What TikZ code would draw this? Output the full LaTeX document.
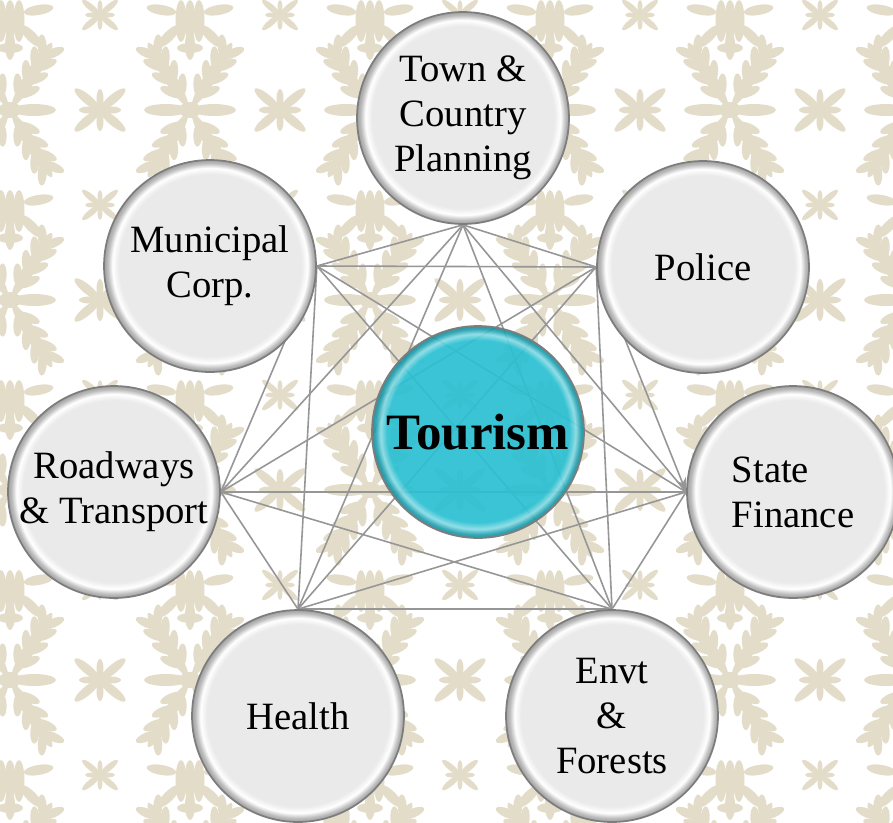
\documentclass[tikz,border=0pt]{standalone}
\usepackage{fontspec}
\setmainfont{Liberation Serif}
\usepackage{tikz}
\usetikzlibrary{arrows.meta}
\usepackage{xcolor}

\definecolor{damask}{RGB}{226,220,201}
\definecolor{discgray}{RGB}{234,234,234}
\definecolor{rimgray}{RGB}{125,125,125}
\definecolor{linkgray}{RGB}{150,150,150}
\definecolor{tealhub}{RGB}{42,192,210}

\pgfdeclareradialshading{bevel}{\pgfpoint{0bp}{1bp}}{color(0bp)=(discgray); color(21.5bp)=(discgray); color(23bp)=(white); color(24.2bp)=(discgray!80!black); color(26bp)=(discgray!55!black)}
\pgfdeclareradialshading{tealbevel}{\pgfpoint{0bp}{1bp}}{color(0bp)=(tealhub); color(21.5bp)=(tealhub); color(23bp)=(tealhub!55!white); color(24.2bp)=(tealhub!85!black); color(26bp)=(tealhub!55!black)}

\pgfdeclarelayer{pattern}
\pgfdeclarelayer{links}
\pgfsetlayers{pattern,links,main}

% wallpaper motifs
\newcommand{\feather}{%
  \fill (42,0) ellipse (37 and 6);
  \foreach \t in {16,32,48,62}{%
    \fill[rotate around={35:(\t,0)}] (\t+11,0) ellipse (12 and 4.5);
    \fill[rotate around={-35:(\t,0)}] (\t+11,0) ellipse (12 and 4.5);
  }%
}
\newcommand{\leafmotif}{%
  \foreach \a in {58,122,238,302}{%
    \begin{scope}[rotate=\a] \feather \end{scope}
  }%
  \foreach \a in {0,180} \fill[rotate=\a] (24,0) ellipse (22 and 6);
  \fill (0,0) ellipse (11 and 8);
}
\newcommand{\crossmotif}{%
  \foreach \a in {40,140,220,320} \fill[rotate=\a] (17,0) ellipse (16 and 4.5);
  \foreach \a in {0,90,180,270} \fill[rotate=\a] (11,0) ellipse (10 and 3.5);
  \fill (0,0) circle (4);
}
\newcommand{\urnmotif}{%
  \foreach \s in {-9,0,9} \fill (\s,6) ellipse (5.5 and 21);
  \foreach \a in {-135,-90,-45} \fill[rotate=\a] (30,0) ellipse (15 and 5);
  \foreach \a in {10,170} \fill[rotate=\a] (29,0) ellipse (15 and 5);
  \fill (0,33) ellipse (13 and 5);
}

\begin{document}
\begin{tikzpicture}[
    x=0.02cm, y=-0.02cm,
    dept/.style={circle, minimum size=4.24cm, inner sep=0pt, shading=bevel, draw=rimgray, line width=1pt, align=center, font=\fontsize{22}{25.6}\selectfont},
    hub/.style={circle, minimum size=4.24cm, inner sep=0pt, shading=tealbevel, fill opacity=0.92, text opacity=1, draw=rimgray, line width=1pt, font=\fontsize{29}{32}\selectfont\bfseries},
    link/.style={draw=linkgray, line width=0.9pt},
    arrow/.style={link, -{Stealth[length=8pt, width=6pt]}}
]
\useasboundingbox (0,0) rectangle (893,822);

\begin{pgfonlayer}{pattern}
  \fill[white] (0,0) rectangle (893,822);
  \begin{scope}[fill=damask]
    \foreach \x in {10,190,...,910} \foreach \y in {-80,110,...,870} {
      \begin{scope}[shift={(\x,\y)}] \leafmotif \end{scope}
      \begin{scope}[shift={(\x+90,\y)}] \crossmotif \end{scope}
      \begin{scope}[shift={(\x,\y+95)}] \urnmotif \end{scope}
      \begin{scope}[shift={(\x+90,\y+95)}, scale=0.7] \crossmotif \end{scope}
    }
  \end{scope}
\end{pgfonlayer}

\node[hub] (tourism) at (478,432) {Tourism};

\node[dept] (town) at (463,118) {Town \&\\Country\\Planning};
\node[dept] (muni) at (210,266) {Municipal\\Corp.};
\node[dept] (police) at (703,267) {Police};
\node[dept] (road) at (114,492) {Roadways\\\& Transport};
\node[dept, align=left] (finance) at (793,492) {State\\Finance};
\node[dept] (health) at (298,716) {Health};
\node[dept] (envt) at (612,716) {Envt\\\&\\Forests};

\begin{pgfonlayer}{links}
  \foreach \a/\b in {town.south/muni.east, town.south/police.west, town.south/finance.west,
      town.south/envt.north, town.south/health.north, town.south/road.east,
      muni.east/police.west, muni.east/finance.west, muni.east/envt.north,
      muni.east/health.north, muni.east/road.east,
      police.west/envt.north, police.west/health.north, police.west/road.east,
      finance.west/envt.north, finance.west/health.north, finance.west/road.east,
      envt.north/health.north, envt.north/road.east, health.north/road.east}
    \draw[link] (\a) -- (\b);
  \draw[arrow] (police.west) -- (finance.west);
\end{pgfonlayer}

\end{tikzpicture}
\end{document}
